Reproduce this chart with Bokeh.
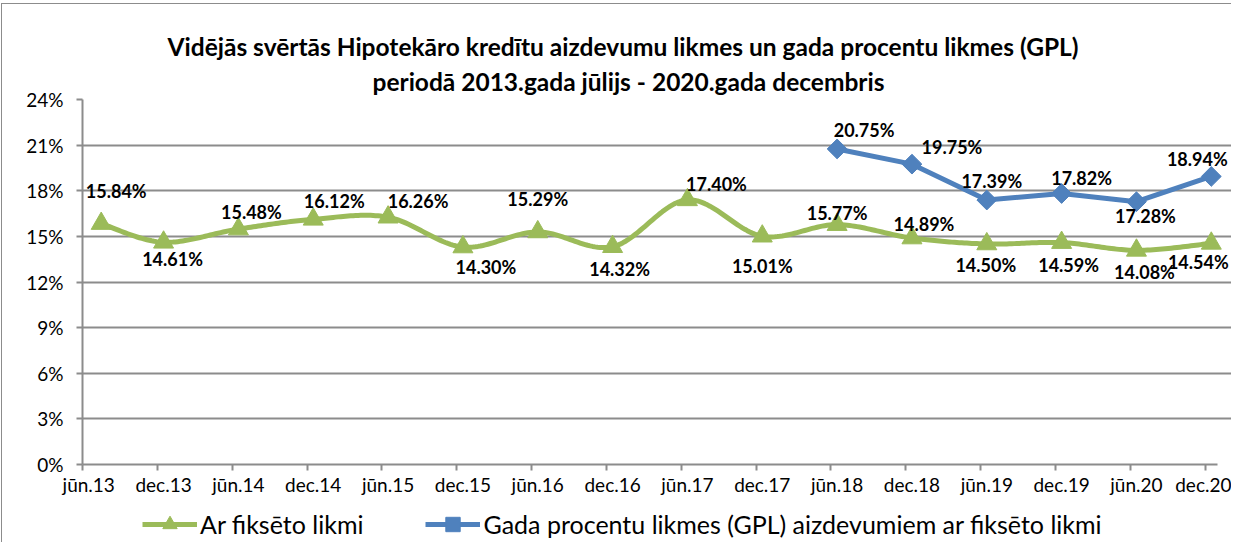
import numpy as np
from bokeh.plotting import figure
from bokeh.layouts import column
from bokeh.models import (ColumnDataSource, FixedTicker, LinearAxis, Range1d, Legend,
                          LegendItem, PrintfTickFormatter, Title, LabelSet)
from bokeh.core.properties import value
from bokeh.embed import file_html
from bokeh.resources import INLINE

# ---------------- data ----------------
categories = ["jūn.13", "dec.13", "jūn.14", "dec.14", "jūn.15", "dec.15", "jūn.16", "dec.16",
              "jūn.17", "dec.17", "jūn.18", "dec.18", "jūn.19", "dec.19", "jūn.20", "dec.20"]
category_months = ["2013-06", "2013-12", "2014-06", "2014-12", "2015-06", "2015-12", "2016-06",
                   "2016-12", "2017-06", "2017-12", "2018-06", "2018-12", "2019-06", "2019-12",
                   "2020-06", "2020-12"]
fixed_months = ["2013-07", "2013-12", "2014-06", "2014-12", "2015-06", "2015-12", "2016-06",
                "2016-12", "2017-06", "2017-12", "2018-06", "2018-12", "2019-06", "2019-12",
                "2020-06", "2020-12"]
fixed_rate = [15.84, 14.61, 15.48, 16.12, 16.26, 14.30, 15.29, 14.32, 17.40, 15.01,
              15.77, 14.89, 14.50, 14.59, 14.08, 14.54]
gpl_months = ["2018-06", "2018-12", "2019-06", "2019-12", "2020-06", "2020-12"]
gpl_rate = [20.75, 19.75, 17.39, 17.82, 17.28, 18.94]
y_ticks = [0, 3, 6, 9, 12, 15, 18, 21, 24]

title_1 = "Vidējās svērtās Hipotekāro kredītu aizdevumu likmes un gada procentu likmes (GPL)"
title_2 = "periodā 2013.gada jūlijs - 2020.gada decembris"
series_names = ["Ar fiksēto likmi", "Gada procentu likmes (GPL) aizdevumiem ar fiksēto likmi"]

# label placement (screen px, right / down)
fixed_dx = [15, 9, 13, 21, 30, 23, 0, 7, 29, 0, 0, 12, -1, 7, 8, -13]
fixed_dy = [-33, 17, -17, -18, -16, 20, -33, 22, -16, 30, -12, -14, 21, 22, 22, 19]
gpl_dx = [27, 40, 5, 20, 9, -14]
gpl_dy = [-19, -17, -19, -15, 14, -17]

GREEN = "#9BBB59"
BLUE = "#4F81BD"
GRID = "#8c8c8c"
FONT = "Lato"
X_END = 91.0        # end of the category axis (months)
X_VIEW = 92.2       # a little room on the right for the last data label


def month_center(s):
    y, m = map(int, s.split("-"))
    return (y - 2013) * 12 + (m - 6) + 0.5


fx = [month_center(s) for s in fixed_months]
gx = [month_center(s) for s in gpl_months]
tick_pos = [month_center(s) - 0.5 for s in category_months]
label_pos = [month_center(s) for s in category_months]


def smooth(xs, ys, n=30):
    """Bezier smoothing through the points (like a spreadsheet 'smoothed line')."""
    P = np.column_stack([xs, ys]).astype(float)
    out = []
    for i in range(len(P) - 1):
        p0 = P[i - 1] if i > 0 else P[i]
        p1 = P[i]
        p2 = P[i + 1]
        p3 = P[i + 2] if i + 2 < len(P) else P[i + 1]
        c1 = p1 + (p2 - p0) / 6.0
        c2 = p2 - (p3 - p1) / 6.0
        t = np.linspace(0, 1, n, endpoint=(i == len(P) - 2))[:, None]
        seg = ((1 - t) ** 3) * p1 + 3 * ((1 - t) ** 2) * t * c1 + 3 * (1 - t) * t ** 2 * c2 + t ** 3 * p2
        out.append(seg)
    arr = np.vstack(out)
    return arr[:, 0], arr[:, 1]


sx, sy = smooth(fx, fixed_rate)

px_per_month = 1134 / 91.0
FRAME_W = int(round(px_per_month * X_VIEW))
LEFT = 80
TOTAL_W = LEFT + FRAME_W

p = figure(frame_width=FRAME_W, frame_height=364,
           output_backend="svg", toolbar_location=None,
           x_range=Range1d(0, X_VIEW), y_range=Range1d(0, 24),
           min_border_left=LEFT, min_border_right=0, min_border_top=95, min_border_bottom=34,
           x_axis_location=None)
p.styles = {"border-left": "1px solid #8c8c8c", "border-top": "1px solid #8c8c8c",
            "margin-top": "3px", "margin-left": "1px"}
p.outline_line_color = None
p.background_fill_color = "white"
p.border_fill_color = "white"

p.add_layout(Title(text=title_2, align="left", offset=290, standoff=8, text_font=FONT,
                   text_font_style="bold", text_font_size="24.5px", text_color="black"), "above")
p.add_layout(Title(text=title_1, align="left", offset=85, standoff=0, text_font=FONT,
                   text_font_style="bold", text_font_size="24.5px", text_color="black"), "above")

# y axis
p.yaxis.ticker = FixedTicker(ticks=y_ticks)
p.yaxis.formatter = PrintfTickFormatter(format="%d%%")
p.yaxis.axis_line_color = GRID
p.yaxis.axis_line_width = 2
p.yaxis.major_tick_line_color = GRID
p.yaxis.major_tick_line_width = 2
p.yaxis.major_tick_out = 6
p.yaxis.major_tick_in = 0
p.yaxis.minor_tick_line_color = None
p.yaxis.major_label_standoff = 13
p.yaxis.major_label_text_font = FONT
p.yaxis.major_label_text_font_size = "19px"
p.yaxis.major_label_text_color = "black"

p.ygrid.ticker = FixedTicker(ticks=y_ticks)
p.ygrid.grid_line_color = GRID
p.ygrid.grid_line_width = 2
p.ygrid.bounds = (0, X_END)
p.xgrid.grid_line_color = None

# x axis: tick marks at period boundaries
ax_ticks = LinearAxis(ticker=FixedTicker(ticks=tick_pos), bounds=(0, X_END))
ax_ticks.axis_line_color = GRID
ax_ticks.axis_line_width = 2
ax_ticks.major_tick_line_color = GRID
ax_ticks.major_tick_line_width = 2
ax_ticks.major_tick_out = 6
ax_ticks.major_tick_in = 0
ax_ticks.minor_tick_line_color = None
ax_ticks.major_label_text_font_size = "1px"
ax_ticks.major_label_text_color = None
ax_ticks.major_label_standoff = 0
p.add_layout(ax_ticks, "below")

# x axis: labels centred on the month
ax_labels = LinearAxis(ticker=FixedTicker(ticks=label_pos),
                       major_label_overrides={pos: lab for pos, lab in zip(label_pos, categories)})
ax_labels.axis_line_color = None
ax_labels.major_tick_line_color = None
ax_labels.minor_tick_line_color = None
ax_labels.major_tick_out = 0
ax_labels.major_tick_in = 0
ax_labels.major_label_standoff = 2
ax_labels.major_label_text_font = FONT
ax_labels.major_label_text_font_size = "19px"
ax_labels.major_label_text_color = "black"
p.add_layout(ax_labels, "below")

# series
p.line(sx, sy, line_color=GREEN, line_width=5, line_join="round", line_cap="round")
p.scatter(fx, fixed_rate, marker="triangle", size=20, fill_color=GREEN, line_color=GREEN)
p.line(gx, gpl_rate, line_color=BLUE, line_width=5, line_join="round", line_cap="round")
p.scatter(gx, gpl_rate, marker="square", angle=np.pi / 4, size=14,
          fill_color=BLUE, line_color=BLUE)

lab_src = ColumnDataSource(dict(
    x=fx + gx,
    y=fixed_rate + gpl_rate,
    text=[f"{v:.2f}%" for v in fixed_rate + gpl_rate],
    dx=fixed_dx + gpl_dx,
    dy=[-d for d in fixed_dy + gpl_dy],
))
labels = LabelSet(x="x", y="y", text="text", source=lab_src, x_offset="dx", y_offset="dy",
                  text_font=value(FONT), text_font_style="bold", text_font_size="18px",
                  text_align="center", text_baseline="middle", text_color="black")
p.add_layout(labels)

# ---------------- legend strip below the chart ----------------
lg = figure(width=TOTAL_W, height=45, output_backend="svg", toolbar_location=None,
            x_range=Range1d(0, 1), y_range=Range1d(0, 1), min_border=0,
            x_axis_location=None, y_axis_location=None)
lg.styles = {"border-left": "1px solid #8c8c8c", "margin-left": "1px"}
lg.outline_line_color = None
lg.grid.grid_line_color = None
lg.background_fill_color = "white"
lg.border_fill_color = "white"
# legend-only renderers: a single point placed outside the visible range
off = [-10.0]
lg_gl = lg.line(off, off, line_color=GREEN, line_width=5)
lg_gm = lg.scatter(off, off, marker="triangle", size=18, fill_color=GREEN, line_color=GREEN)
lg_bl = lg.line(off, off, line_color=BLUE, line_width=5)
lg_bm = lg.scatter(off, off, marker="square", angle=np.pi / 4, size=14,
                   fill_color=BLUE, line_color=BLUE)

legend = Legend(items=[LegendItem(label=series_names[0], renderers=[lg_gl, lg_gm]),
                       LegendItem(label=series_names[1], renderers=[lg_bl, lg_bm])],
                orientation="horizontal", location=(60, 0), glyph_width=55, glyph_height=36,
                label_standoff=3, spacing=62, padding=0, margin=0, border_line_color=None,
                background_fill_alpha=0, label_text_font=FONT, label_text_font_size="25px",
                label_text_color="black")
lg.add_layout(legend, "center")

layout = column(p, lg, spacing=0)
open("out.html", "w").write(file_html(layout, INLINE))
